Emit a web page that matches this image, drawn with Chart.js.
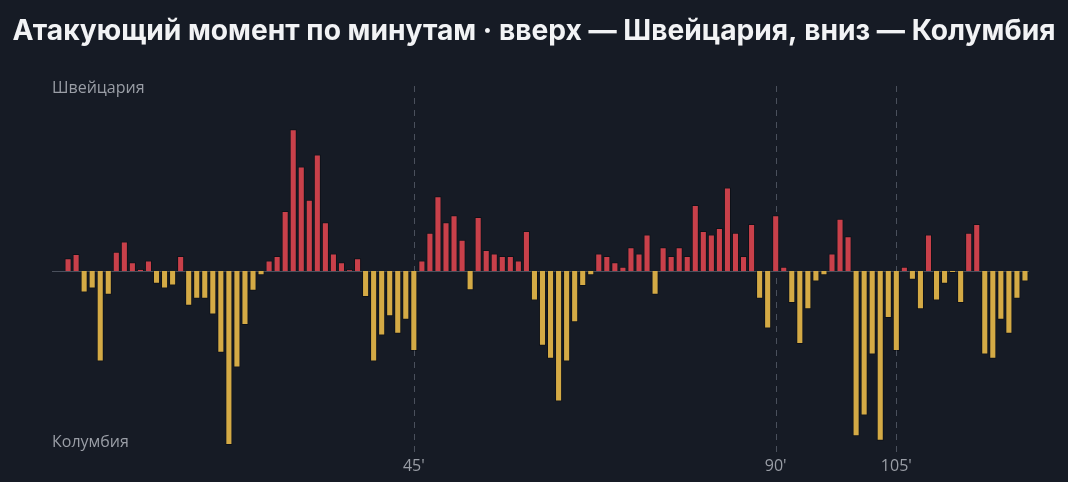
<!DOCTYPE html>
<html><head><meta charset="utf-8">
<script src="https://cdn.jsdelivr.net/npm/chart.js@4"></script>
<style>html,body{margin:0;padding:0;background:#161b25}#w{width:1068px;height:482px}</style>
</head><body><div id="w"><canvas id="c"></canvas></div>
<script>
const titleText = 'Атакующий момент по минутам · вверх — Швейцария, вниз — Колумбия';
const topLabel = 'Швейцария';
const bottomLabel = 'Колумбия';
const markedMinutes = [45, 90, 105];
const minutes = Array.from({length:121},(_,i)=>i+1);
const momentum = [
 0,7.3,9.8,-12.3,-10,-52,-13.6,11,17,5,
 1.2,6,-7.3,-10,-8.4,8.6,-20,-16,-16,-25,
 -47,-100,-55.5,-31,-11.3,-2.5,6,8.6,34.5,81.4,
 60,41,67,28,10,5,1,7.3,-15,-52,
 -37,-26,-36,-28,-46,6,22,43,28,32,
 18,-11,31,12,10,8.6,8.6,6,23,-17,
 -43,-50.5,-75,-52,-29.5,-8.6,-2.5,10,8.6,5,
 2.5,13.6,10,21,-13.6,13.6,8.6,13.6,8.6,38,
 23,21,24.7,48,22,8.6,27,-16,-33,32,
 2.5,-18.4,-42,-22,-6,-2.5,10,30,20,-95,
 -83,-48,-97.5,-27,-46,2.5,-5,-22,21,-17,
 -7.3,-1.2,-18.4,22,27,-48,-50.5,-28,-36,-16,
 -6
];
const RED='#c9404a', YEL='#d4aa45';
const deco = {
  id:'deco',
  beforeDatasetsDraw(ch){
    const c=ch.ctx, x=ch.scales.x, y=ch.scales.y, a=ch.chartArea;
    c.save();
    c.strokeStyle='#4a505c'; c.lineWidth=1; c.setLineDash([6,6]);
    markedMinutes.forEach(m=>{const px=Math.round(x.getPixelForValue(m-1))+0.5;
      c.beginPath(); c.moveTo(px,86); c.lineTo(px,452); c.stroke();});
    c.setLineDash([]); c.strokeStyle='#4a505c';
    const zy=Math.round(y.getPixelForValue(0))+0.5;
    c.beginPath(); c.moveTo(52,zy); c.lineTo(a.right,zy); c.stroke();
    c.restore();
  },
  afterDraw(ch){
    const c=ch.ctx, x=ch.scales.x;
    c.save();
    c.fillStyle='#f2f3f5';
    c.font='bold 23px Inter, "Liberation Sans", sans-serif';
    const w=c.measureText(titleText).width;
    const fs=23*1043/w;
    c.font='bold '+fs.toFixed(2)+'px Inter, "Liberation Sans", sans-serif';
    c.textAlign='center'; c.textBaseline='middle';
    c.fillText(titleText,534,32);
    c.fillStyle='#9a9ea6'; c.font='16px "Open Sans", "DejaVu Sans", sans-serif';
    c.textAlign='left';
    c.fillText(topLabel,52,88); c.fillText(bottomLabel,52,442);
    c.textAlign='center';
    markedMinutes.forEach(m=>c.fillText(m+"'",x.getPixelForValue(m-1),466));
    c.restore();
  }
};
new Chart(document.getElementById('c'),{
  type:'bar',
  data:{labels:minutes,datasets:[{data:momentum,
    backgroundColor:momentum.map(v=>v>=0?RED:YEL),
    borderColor:'rgba(0,0,0,0.35)',borderWidth:1,
    barPercentage:0.88,categoryPercentage:1}]},
  options:{responsive:true,maintainAspectRatio:false,animation:false,
    layout:{padding:{top:97,bottom:37,left:56,right:39}},
    plugins:{legend:{display:false},tooltip:{enabled:false}},
    scales:{x:{display:false},y:{display:false,min:-100,max:100}}},
  plugins:[deco]
});
</script></body></html>
